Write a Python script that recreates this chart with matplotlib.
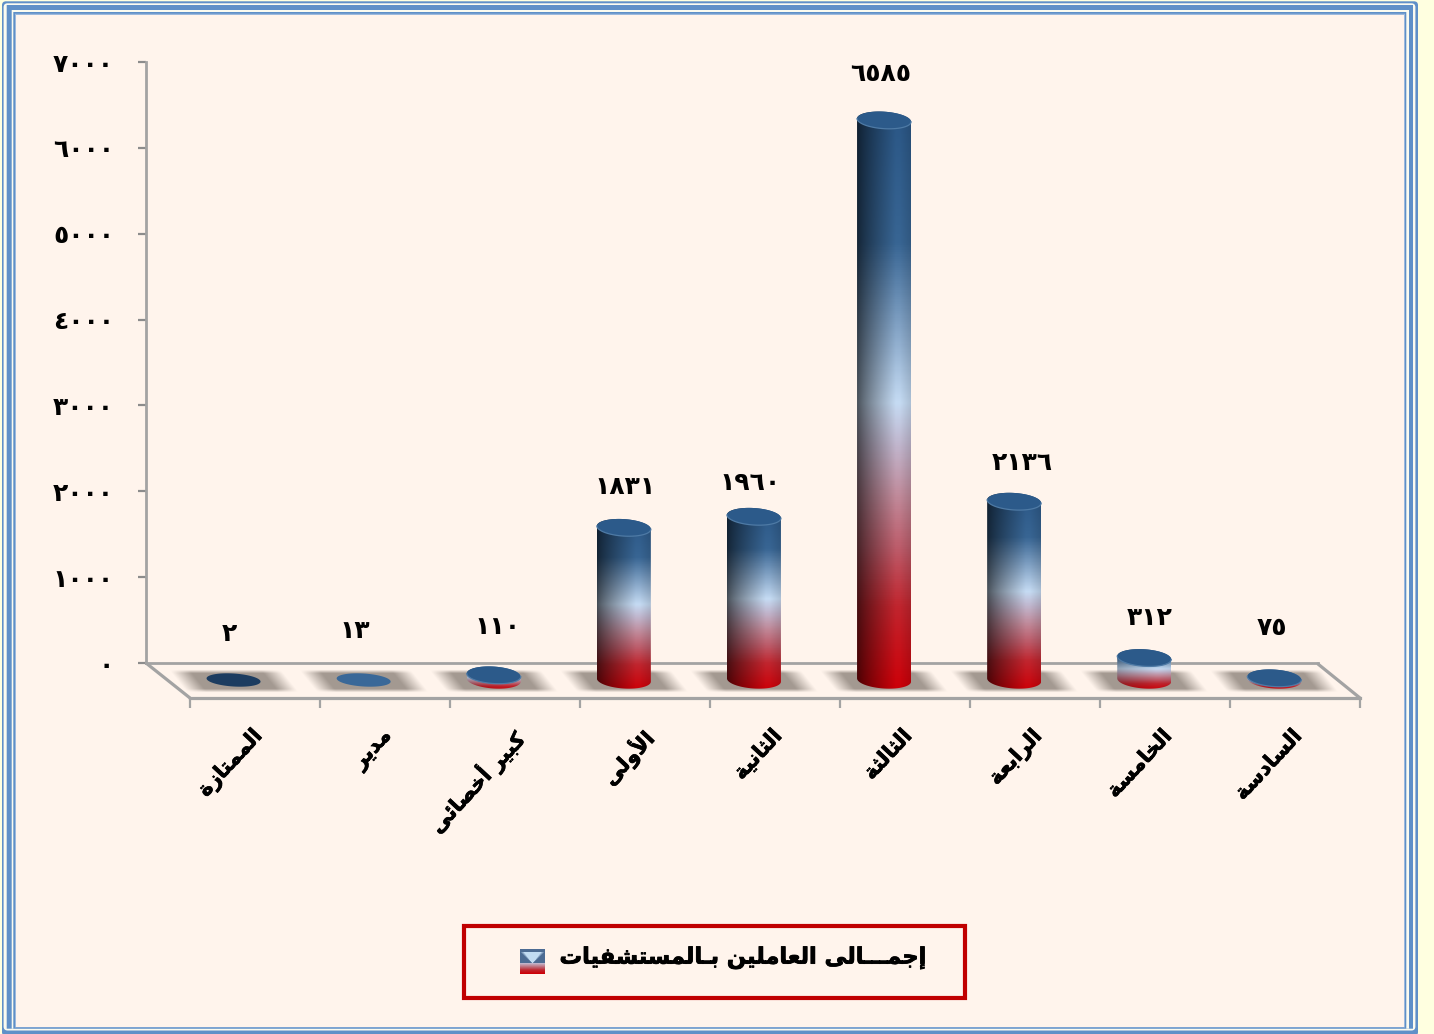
import numpy as np
import matplotlib
matplotlib.use("Agg")
import matplotlib.pyplot as plt
import matplotlib.patheffects as pe
from matplotlib.patches import FancyBboxPatch, Rectangle, PathPatch, Polygon
from matplotlib.path import Path
from matplotlib.colors import LinearSegmentedColormap

categories = ["الممتازة", "مدير", "كبير أخصائى", "الأولى", "الثانية",
              "الثالثة", "الرابعة", "الخامسة", "السادسة"]
values = [2, 13, 110, 1831, 1960, 6585, 2136, 312, 75]
legend_label = "إجمـــالى العاملين بـالمستشفيات"
value_ticks = [0, 1000, 2000, 3000, 4000, 5000, 6000, 7000]

# value-label placement relative to each bar top, pixels
label_rise = [50, 52, 47.6, 41, 34, 46, 38, 39.5, 49.6]
label_shift = [-4, -9, 4, 1, -4, -3, 8, 5, -2]

plt.rcParams["font.family"] = ["DejaVu Sans"]
W, H = 1434, 1034
BG = "#FFF4EC"
BLUE = "#5F90C8"
GRAY = "#A3A3A3"

# --- Arabic shaping: matplotlib has no bidi/shaping of its own ---
_four = {"ئ": 0xFE89, "ب": 0xFE8F, "ت": 0xFE95, "ث": 0xFE99, "ج": 0xFE9D, "ح": 0xFEA1,
         "خ": 0xFEA5, "س": 0xFEB1, "ش": 0xFEB5, "ص": 0xFEB9, "ض": 0xFEBD, "ط": 0xFEC1,
         "ظ": 0xFEC5, "ع": 0xFEC9, "غ": 0xFECD, "ف": 0xFED1, "ق": 0xFED5, "ك": 0xFED9,
         "ل": 0xFEDD, "م": 0xFEE1, "ن": 0xFEE5, "ه": 0xFEE9, "ي": 0xFEF1}
_two = {"آ": 0xFE81, "أ": 0xFE83, "ؤ": 0xFE85, "إ": 0xFE87, "ا": 0xFE8D, "ة": 0xFE93,
        "د": 0xFEA9, "ذ": 0xFEAB, "ر": 0xFEAD, "ز": 0xFEAF, "و": 0xFEED, "ى": 0xFEEF}
_lam = {"آ": 0xFEF5, "أ": 0xFEF7, "إ": 0xFEF9, "ا": 0xFEFB}


def shape(s):
    items = []
    i = 0
    while i < len(s):
        c = s[i]
        if c == "ل" and i + 1 < len(s) and s[i + 1] in _lam:
            items.append(("lam", s[i + 1]))
            i += 2
        else:
            items.append(("ch", c))
            i += 1

    def joins_next(it):
        return it[0] == "ch" and (it[1] in _four or it[1] == "ـ")

    def joins_prev(it):
        return it[0] == "lam" or it[1] in _four or it[1] in _two or it[1] == "ـ"

    out = []
    for k, it in enumerate(items):
        prev_j = k > 0 and joins_next(items[k - 1]) and joins_prev(it)
        next_j = k + 1 < len(items) and joins_next(it) and joins_prev(items[k + 1])
        if it[0] == "lam":
            out.append(chr(_lam[it[1]] + (1 if prev_j else 0)))
        elif it[1] in _four:
            form = (3 if next_j else 1) if prev_j else (2 if next_j else 0)
            out.append(chr(_four[it[1]] + form))
        elif it[1] in _two:
            out.append(chr(_two[it[1]] + (1 if prev_j else 0)))
        else:
            out.append(it[1])
    return "".join(reversed(out))


def to_ar(n):
    return "".join("٠١٢٣٤٥٦٧٨٩"[int(d)] for d in str(n))


def box(left, top, right, bottom):
    return [left / W, 1 - bottom / H, (right - left) / W, (bottom - top) / H]


fig = plt.figure(figsize=(W / 100, H / 100), dpi=100, facecolor="#FFFFE0")

# --- pixel canvas: frame and floor ---
bg = fig.add_axes([0, 0, 1, 1])
bg.set_xlim(0, W)
bg.set_ylim(H, 0)
bg.axis("off")
layers = [(2, 1.3, 1418, 1036, BLUE), (3.6, 3.3, 1415.4, 1030.5, "#FBFBF0"),
          (6.7, 5, 1413, 1028.7, BLUE), (11.7, 10, 1409, 1028.7, "#FBFBF0"),
          (13.3, 12, 1406.3, 1028.7, BLUE), (15, 13.7, 1405, 1027.5, "#9DB9DC"),
          (16, 15, 1404, 1027, BG)]
for i, (x0, y0, x1, y1, c) in enumerate(layers):
    r = 4 if i < 2 else 0.01
    bg.add_patch(FancyBboxPatch((x0 + r, y0 + r), x1 - x0 - 2 * r, y1 - y0 - 2 * r,
                                boxstyle=f"round,pad={r},rounding_size={r}",
                                fc=c, ec="none", zorder=i))
bg.plot([146, 190], [663, 698], color=GRAY, lw=2.3, zorder=10, solid_capstyle="round")
bg.plot([1318, 1360], [664, 698], color=GRAY, lw=2.3, zorder=10, solid_capstyle="round")

# --- value axis (back wall) ---
ax_val = fig.add_axes(box(146, 62, 1318, 663), facecolor="none")
ax_val.set_ylim(0, 7000)
ax_val.set_xlim(0, 1)
ax_val.set_xticks([])
ax_val.set_yticks(value_ticks, [to_ar(v) for v in value_ticks], fontsize=18, fontweight="bold")
ax_val.tick_params(axis="y", length=6, width=1.6, color="#8C8C8C", pad=17)
for s in ("top", "right"):
    ax_val.spines[s].set_visible(False)
for s in ("left", "bottom"):
    ax_val.spines[s].set_color(GRAY)
    ax_val.spines[s].set_linewidth(2)

# --- category axis (front edge) ---
ax_cat = fig.add_axes(box(190, 200, 1360, 698), facecolor="none")
ax_cat.set_xlim(0, len(categories))
ax_cat.set_yticks([])
ax_cat.patch.set_visible(False)
ax_cat.set_xticks(range(len(categories) + 1), [""] * (len(categories) + 1))
ax_cat.tick_params(axis="x", which="major", length=7, width=1.6, color=GRAY)
ax_cat.set_xticks(np.arange(len(categories)) + 0.47, minor=True)
labels = ax_cat.set_xticklabels([shape(c) for c in categories], minor=True, rotation=47, ha="right",
                                va="top", rotation_mode="anchor", fontsize=15, fontweight="bold")
for t in labels:
    t.set_path_effects([pe.withStroke(linewidth=0.5, foreground="black")])
ax_cat.tick_params(axis="x", which="minor", length=0, pad=20)
for s in ("top", "right", "left"):
    ax_cat.spines[s].set_visible(False)
ax_cat.spines["bottom"].set_color(GRAY)
ax_cat.spines["bottom"].set_linewidth(2.3)

# --- cylinders: y scale in values, baseline behind the visible foot ---
PX_X = 130.1
PX_Y = 0.0857
BASE = 684.5
FOOT = (BASE - 680) / PX_Y   # value height of the bottom ellipse centre
ax = fig.add_axes(box(168.5, BASE - 7000 * PX_Y, 168.5 + 9 * PX_X, BASE), facecolor="none")
ax.set_xlim(0, 9)
ax.set_ylim(0, 7000)
ax.axis("off")

grad = LinearSegmentedColormap.from_list("bar", [
    (0.00, "#2A5685"), (0.23, "#386593"), (0.39, "#8AA9CA"), (0.505, "#C5DBF3"),
    (0.58, "#C0B5CC"), (0.67, "#C08898"), (0.76, "#BC5A68"), (0.857, "#C0252E"),
    (1.00, "#CC0008")])
A = 27 / PX_X          # half width, category units
B = 8.5 / PX_Y         # ellipse half height, value units
TILT = 0.06 * (A * PX_X) / PX_Y  # left edge sits higher than the right


def outline(cx, cy, ts, b=B):
    return cx + A * np.cos(ts), cy + b * np.sin(ts) - TILT * np.cos(ts)


for i, v in enumerate(values):
    cx = i + 0.5
    # soft floor shadow
    uu = np.linspace(-64, 64, 200)
    vv = np.linspace(-12, 12, 48)
    U, V = np.meshgrid(uu, vv)
    su = U + V * 0.8
    a = (np.clip((56 - np.abs(su)) / 20, 0, 1)
         * np.clip((11.5 - np.abs(V)) / 3.5, 0, 1) * 0.8)
    rgba = np.zeros(U.shape + (4,))
    rgba[..., :3] = np.array([0.55, 0.51, 0.48])
    rgba[..., 3] = a
    yc = (BASE - 681) / PX_Y
    ax.imshow(rgba, extent=(cx - 64 / PX_X, cx + 64 / PX_X,
                            yc - 12 / PX_Y, yc + 12 / PX_Y),
              origin="lower", aspect="auto", zorder=1, clip_on=False)

    top_y = max(v, FOOT)
    ts_full = np.linspace(0, 2 * np.pi, 90)
    if v >= 50:
        x_up, y_up = outline(cx, top_y, np.linspace(0, np.pi, 45))
        x_lo, y_lo = outline(cx, FOOT, np.linspace(np.pi, 2 * np.pi, 45))
        sil = Path(np.column_stack([np.r_[x_up, x_lo], np.r_[y_up, y_lo]]))
        y0, y1 = FOOT - B - TILT, top_y + B + TILT
        ny, nx = max(int((y1 - y0) * PX_Y), 4), 54
        fy = np.linspace(0, 1, ny)
        rgb = grad(fy)[:, :3][:, None, :] * np.ones((ny, nx, 3))
        tx = np.linspace(-1, 1, nx)
        shade = np.clip(0.36 + 0.64 * (np.clip(tx + 1, 0, None) / 1.45) ** 0.8, 0, 1)
        shade = shade * (1 - 0.12 * np.clip((tx - 0.6) / 0.4, 0, 1))
        k = min(1.0, v / 1500 + 0.2)
        light = (1 - k + k * shade)[None, :, None]
        im = ax.imshow(rgb * light, extent=(cx - A, cx + A, y0, y1), aspect="auto",
                       origin="upper", zorder=3)
        im.set_clip_path(PathPatch(sil, transform=ax.transData))
        im.set_clip_box(fig.bbox)
    # top cap with a subtle front rim
    b_cap = B if v >= 50 else 6.5 / PX_Y
    xe, ye = outline(cx, top_y, ts_full, b_cap)
    cap_color = "#1C3C60" if v < 10 else ("#3A6898" if v < 50 else "#2C5A8A")
    ax.add_patch(Polygon(np.column_stack([xe, ye]), closed=True, fc=cap_color, ec="none",
                         zorder=4, clip_on=False))
    if v >= 50:
        xr, yr = outline(cx, top_y, np.linspace(np.pi, 2 * np.pi, 45))
        ax.plot(xr, yr, color="#4E7AA5", lw=0.9, zorder=5, clip_on=False)
    # value label
    ax.text(cx + label_shift[i] / PX_X, v + label_rise[i] / PX_Y, to_ar(v),
            ha="center", va="center", fontsize=18, fontweight="bold",
            color="black", clip_on=False, zorder=6)

ax.set_xlim(0, 9)
ax.set_ylim(0, 7000)

# --- legend ---
bg.add_patch(Rectangle((464, 926), 501, 72, fc="none", ec="#C00000", lw=3, zorder=10))
yy, xx = np.mgrid[0:25, 0:25]
sw = grad(np.clip(yy / 24.0, 0.55, 1))[:, :, :3]
d = np.abs(xx - 12) / 12.0
upper = yy < 14
side = np.array([0.30, 0.42, 0.58])
light_c = np.array([0.76, 0.86, 0.95])
mask = np.clip(1 - d / np.clip((14 - yy) / 11.0, 0.05, 1), 0, 1)
mask = np.clip(mask * 3, 0, 1)
mask[yy < 3] = 0
sw[upper] = (side * (1 - mask[upper])[:, None] + light_c * mask[upper][:, None])
bg.imshow(sw, extent=(520, 545, 974, 949), zorder=11, aspect="auto")
bg.set_xlim(0, W)
bg.set_ylim(H, 0)
bg.text(925, 958, shape(legend_label), ha="right", va="center", fontsize=16.2,
        fontweight="bold", color="black", zorder=11,
        path_effects=[pe.withStroke(linewidth=0.6, foreground="black")])

fig.savefig("out.png", dpi=100, facecolor=fig.get_facecolor())
